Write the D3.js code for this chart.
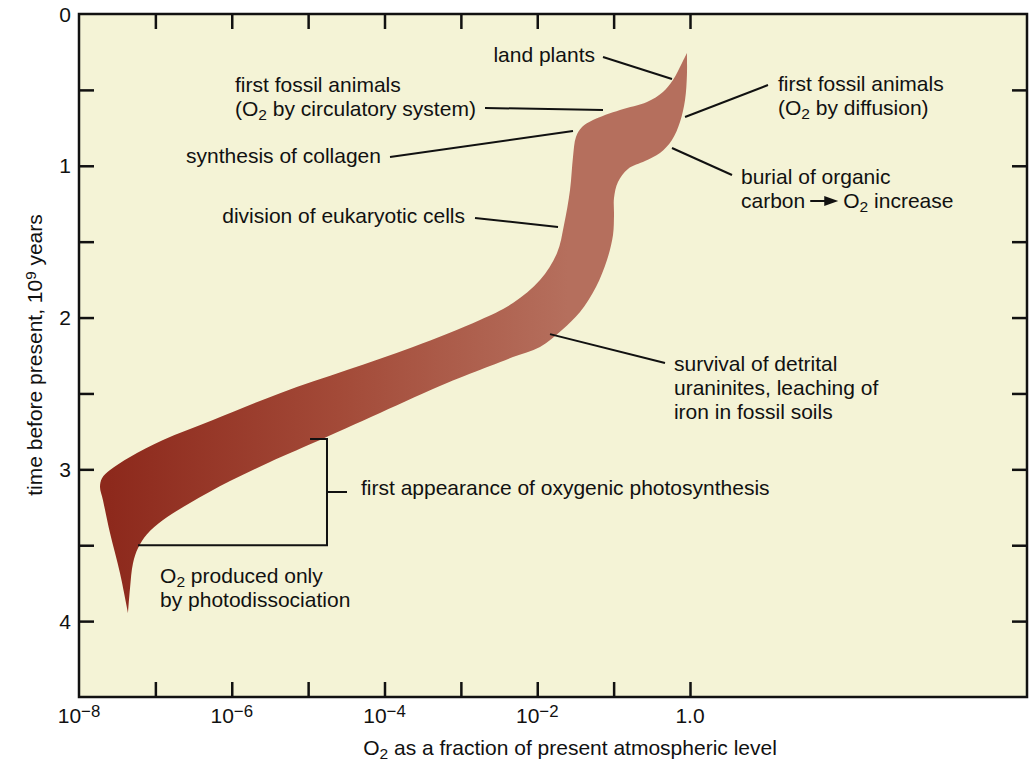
<!DOCTYPE html>
<html>
<head>
<meta charset="utf-8">
<script src="https://cdn.jsdelivr.net/npm/d3@7"></script>
<style>
  body { margin: 0; background: #fff; }
  svg { display: block; font-family: "Liberation Sans", Arial, Helvetica, sans-serif; }
</style>
</head>
<body>
<div id="app"></div>
<script>
// band outline, [log10 of O2 fraction, time before present in 10^9 years]
// right / lower edge, from the top tip down to the bottom tip
const rightEdge = [
  [-0.04, 0.257], [-0.04, 0.40], [-0.065, 0.567], [-0.131, 0.712], [-0.236, 0.830],
  [-0.393, 0.916], [-0.589, 0.969], [-0.812, 1.021], [-0.943, 1.107], [-0.995, 1.213],
  [-0.995, 1.325], [-1.008, 1.456], [-1.087, 1.621], [-1.231, 1.799], [-1.440, 1.964],
  [-1.676, 2.082], [-1.964, 2.194], [-2.318, 2.260], [-2.619, 2.320], [-3.182, 2.432],
  [-4.059, 2.629], [-4.936, 2.827], [-5.499, 2.952], [-6.023, 3.077], [-6.547, 3.222],
  [-6.900, 3.334], [-7.110, 3.427], [-7.227, 3.519], [-7.293, 3.618], [-7.332, 3.783],
  [-7.358, 3.947]
];
// left / upper edge, from the bottom tip back up to the top tip
const leftEdge = [
  [-7.358, 3.947], [-7.463, 3.684], [-7.594, 3.420], [-7.686, 3.203], [-7.725, 3.117],
  [-7.699, 3.058], [-7.594, 3.005], [-7.332, 2.919], [-6.900, 2.807], [-6.246, 2.675],
  [-5.368, 2.498], [-4.491, 2.346], [-3.627, 2.194], [-2.750, 2.016], [-2.318, 1.904],
  [-1.964, 1.753], [-1.741, 1.575], [-1.650, 1.390], [-1.571, 1.160], [-1.532, 0.942],
  [-1.493, 0.811], [-1.414, 0.745], [-1.270, 0.699], [-0.917, 0.633], [-0.563, 0.580],
  [-0.354, 0.514], [-0.223, 0.435], [-0.105, 0.323], [-0.04, 0.257]
];

const decadeExps = [-7, -6, -5, -4, -3, -2, -1, 0];
const xTickLabels = [
  { exp: -8, label: "10^{\u22128}" },
  { exp: -6, label: "10^{\u22126}" },
  { exp: -4, label: "10^{\u22124}" },
  { exp: -2, label: "10^{\u22122}" },
  { exp: 0, label: "1.0" }
];
const timeTicks = [0.5, 1, 1.5, 2, 2.5, 3, 3.5, 4];
const timeLabels = [0, 1, 2, 3, 4];

// first appearance of oxygenic photosynthesis: time span of the bracket
const photosynthesisSpan = [2.8, 3.5];

// labels: first baseline at [exp, time], pointer from -> to
const annotations = [
  { lines: ["land plants"], anchor: "end", at: [-1.244, 0.316],
    from: [-1.139, 0.283], to: [-0.236, 0.428] },
  { lines: ["first fossil animals", "(O_2 by circulatory system)"], anchor: "start", at: [-5.957, 0.514],
    from: [-2.684, 0.619], to: [-1.139, 0.633] },
  { lines: ["synthesis of collagen"], anchor: "end", at: [-4.046, 0.982],
    from: [-3.928, 0.942], to: [-1.532, 0.771] },
  { lines: ["division of eukaryotic cells"], anchor: "end", at: [-2.946, 1.377],
    from: [-2.815, 1.344], to: [-1.728, 1.404] },
  { lines: ["first fossil animals", "(O_2 by diffusion)"], anchor: "start", at: [1.152, 0.507],
    from: [1.021, 0.468], to: [-0.065, 0.679] },
  { lines: ["burial of organic", "carbon ~> O_2 increase"], anchor: "start", at: [0.668, 1.120],
    from: [0.550, 1.061], to: [-0.236, 0.883] },
  { lines: ["survival of detrital", "uraninites, leaching of", "iron in fossil soils"], anchor: "start", at: [-0.210, 2.353],
    from: [-0.327, 2.300], to: [-1.833, 2.109] },
  { lines: ["first appearance of oxygenic photosynthesis"], anchor: "start", at: [-4.308, 3.170] },
  { lines: ["O_2 produced only", "by photodissociation"], anchor: "start", at: [-6.939, 3.750] }
];
// bracket geometry in exponents
const bracketExp = -4.753, bracketTopExp = -4.975, bracketBottomExp = -7.227, bracketTickExp = -4.491;

const W = 1029, H = 764;
const mLeft = 79, mTop = 14, mRight = 1027, mBottom = 697;

const x = d3.scaleLog().domain([1e-8, 1]).range([mLeft, 690]);
const y = d3.scaleLinear().domain([0, 4.5]).range([mTop, mBottom]);
const px = e => x(Math.pow(10, e));

const svg = d3.select('#app').append('svg')
  .attr('width', W)
  .attr('height', H);

// text with _2 subscripts and ^{..} superscripts
function rich(sel, str, supSize) {
  const parts = str.split(/(_\d|\^\{[^}]*\})/).filter(s => s);
  let shift = 0;
  parts.forEach(p => {
    let dy = 0, size = null, txt = p;
    if (p[0] === '_') { txt = p.slice(1); dy = 4; size = '74%'; }
    else if (p[0] === '^') { txt = p.slice(2, -1); dy = -6; size = supSize || '72%'; }
    const t = sel.append('tspan').attr('dy', dy - shift).text(txt);
    if (size) t.style('font-size', size);
    shift = dy;
  });
}

//////////PLOT AREA//////////
svg.append('rect')
  .attr('x', mLeft).attr('y', mTop)
  .attr('width', mRight - mLeft).attr('height', mBottom - mTop)
  .attr('fill', '#f4f3d6');

//////////BAND//////////
const grad = svg.append('defs').append('linearGradient')
  .attr('id', 'bandGrad')
  .attr('gradientUnits', 'userSpaceOnUse')
  .attr('x1', px(-7.6)).attr('x2', px(-1.6))
  .attr('y1', 0).attr('y2', 0);
grad.append('stop').attr('offset', 0).attr('stop-color', '#8d291c');
grad.append('stop').attr('offset', 0.5).attr('stop-color', '#a34a38');
grad.append('stop').attr('offset', 1).attr('stop-color', '#b56f5d');

const curve = d3.line().curve(d3.curveCatmullRom.alpha(0.5));
const toPx = d => [px(d[0]), y(d[1])];
const pathR = curve(rightEdge.map(toPx));
const pathL = curve(leftEdge.map(toPx));

svg.append('path')
  .attr('d', pathR + 'L' + pathL.slice(1) + 'Z')
  .attr('fill', 'url(#bandGrad)');

//////////AXES//////////
const tickStyle = g => {
  g.select('.domain').remove();
  g.selectAll('line').attr('stroke', '#111').attr('stroke-width', 2.5);
};

svg.append('g')
  .attr('transform', `translate(0,${mBottom})`)
  .call(d3.axisTop(x).tickValues(decadeExps.map(e => Math.pow(10, e))).tickSize(15).tickFormat(''))
  .call(tickStyle);

svg.append('g')
  .attr('transform', `translate(0,${mTop})`)
  .call(d3.axisBottom(x).tickValues(decadeExps.map(e => Math.pow(10, e))).tickSize(15).tickFormat(''))
  .call(tickStyle);

svg.append('g')
  .attr('transform', `translate(${mLeft},0)`)
  .call(d3.axisRight(y).tickValues(timeTicks).tickSize(15).tickFormat(''))
  .call(tickStyle);

svg.append('g')
  .attr('transform', `translate(${mRight},0)`)
  .call(d3.axisLeft(y).tickValues(timeTicks).tickSize(15).tickFormat(''))
  .call(tickStyle);

svg.append('rect')
  .attr('x', mLeft).attr('y', mTop)
  .attr('width', mRight - mLeft).attr('height', mBottom - mTop)
  .attr('fill', 'none')
  .attr('stroke', '#111')
  .attr('stroke-width', 2.5);

svg.append('g')
  .selectAll('text')
  .data(timeLabels)
  .join('text')
  .attr('x', mLeft - 8)
  .attr('y', d => y(d) + 7.5)
  .attr('text-anchor', 'end')
  .attr('font-size', 21)
  .attr('fill', '#111')
  .text(d => d);

svg.append('g')
  .selectAll('text')
  .data(xTickLabels)
  .join('text')
  .attr('x', d => px(d.exp))
  .attr('y', 723)
  .attr('text-anchor', 'middle')
  .attr('font-size', 21)
  .attr('fill', '#111')
  .each(function (d) { rich(d3.select(this), d.label, '80%'); });

rich(svg.append('text')
  .attr('x', 570).attr('y', 755)
  .attr('text-anchor', 'middle')
  .attr('font-size', 21)
  .attr('fill', '#111'), 'O_2 as a fraction of present atmospheric level');

rich(svg.append('text')
  .attr('transform', 'translate(42,355) rotate(-90)')
  .attr('text-anchor', 'middle')
  .attr('font-size', 21)
  .attr('fill', '#111'), 'time before present, 10^{9} years');

//////////ANNOTATIONS//////////
const ann = svg.append('g').attr('fill', '#111').attr('font-size', 21);

annotations.forEach(a => {
  if (a.from) {
    ann.append('line')
      .attr('x1', px(a.from[0])).attr('y1', y(a.from[1]))
      .attr('x2', px(a.to[0])).attr('y2', y(a.to[1]))
      .attr('stroke', '#111').attr('stroke-width', 2);
  }
  a.lines.forEach((line, i) => {
    const x0 = px(a.at[0]), y0 = y(a.at[1]) + i * 24;
    if (line.includes('~>')) {
      // text, drawn arrow, text
      const [pre, post] = line.split(' ~> ');
      const t1 = ann.append('text').attr('x', x0).attr('y', y0).text(pre);
      const w = t1.node().getComputedTextLength();
      const ax = x0 + w + 5, ay = y0 - 7;
      ann.append('line')
        .attr('x1', ax).attr('y1', ay).attr('x2', ax + 18).attr('y2', ay)
        .attr('stroke', '#111').attr('stroke-width', 2);
      ann.append('path')
        .attr('d', `M${ax + 14},${ay - 5}L${ax + 28},${ay}L${ax + 14},${ay + 5}Z`)
        .attr('fill', '#111');
      rich(ann.append('text').attr('x', ax + 33).attr('y', y0), post);
    } else {
      rich(ann.append('text')
        .attr('x', x0).attr('y', y0)
        .attr('text-anchor', a.anchor), line);
    }
  });
});

// bracket for oxygenic photosynthesis
const bx = px(bracketExp);
ann.append('path')
  .attr('d', `M${px(bracketTopExp)},${y(photosynthesisSpan[0])}H${bx}V${y(photosynthesisSpan[1])}H${px(bracketBottomExp)}`
    + `M${bx},${y((photosynthesisSpan[0] + photosynthesisSpan[1]) / 2)}H${px(bracketTickExp)}`)
  .attr('fill', 'none')
  .attr('stroke', '#111')
  .attr('stroke-width', 2);
</script>
</body>
</html>
